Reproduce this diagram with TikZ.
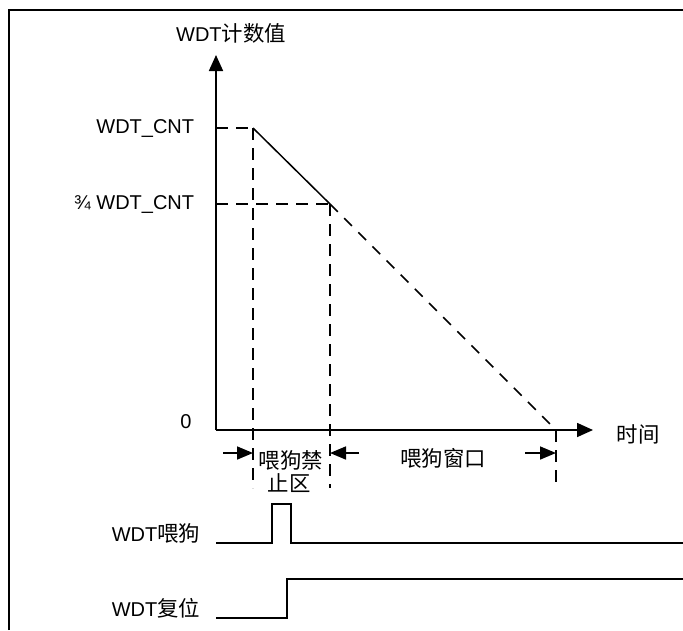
\documentclass[tikz,border=0pt]{standalone}
\usepackage{fontspec}
\setmainfont{Liberation Sans}
\newfontfamily\cjk[Scale=1.07]{Noto Sans CJK SC}
\usetikzlibrary{arrows.meta}
\begin{document}
\begin{tikzpicture}[x=1pt,y=-1pt,line width=1.7pt,
  lbl/.style={font=\fontsize{20}{23}\selectfont,inner sep=0pt},
  dsh/.style={line width=1.7pt,dash pattern=on 12pt off 8pt},
  axtip/.style={-{Triangle[length=16pt,width=14pt]}},
  smtip/.style={-{Triangle[length=16pt,width=13pt]}}]
\useasboundingbox (0,0) rectangle (683,630);
% frame
\draw[line width=1.8pt] (9,630) -- (9,10) -- (683,10);
% coordinates
\coordinate (O) at (216,430);
\coordinate (Ytop) at (216,55);
\coordinate (Xend) at (593,430);
\coordinate (Y1) at (216,128);
\coordinate (Y2) at (216,204);
\coordinate (A) at (253,128);
\coordinate (B) at (330,204);
\coordinate (C) at (556,430);
\coordinate (Ab) at (253,488);
\coordinate (Bb) at (330,488);
\coordinate (Cb) at (556,488);
% axes
\draw[axtip] (O) -- (Ytop);
\draw[axtip] (O) -- (Xend);
% dashed guides
\draw[dsh] (Y1) -- (A);
\draw[dsh] (A) -- (Ab);
\draw[dsh] (Y2) -- (B);
\draw[dsh] (B) -- (Bb);
\draw[line width=1.5pt,dash pattern=on 11pt off 9pt] (B) -- (C);
\draw[dsh] (C) -- (Cb);
% solid slope
\draw[line width=1.5pt] (A) -- (B);
% interval arrows
\coordinate (a1) at (223,453);
\coordinate (a1t) at (253,453);
\coordinate (a2) at (359,453);
\coordinate (a2t) at (330,453);
\coordinate (a3) at (525,453);
\coordinate (a3t) at (556,453);
\draw[smtip] (a1) -- (a1t);
\draw[smtip] (a2) -- (a2t);
\draw[smtip] (a3) -- (a3t);
% labels
\node[lbl] (title) at (231,33) {WDT{\cjk 计数值}};
\node[lbl,anchor=east] (lcnt) at (195,128) {WDT\_CNT};
\node[lbl,anchor=east] (lcnt34) at (195,204) {¾ WDT\_CNT};
\node[lbl] (lzero) at (186,422) {0};
\node[lbl] (ltime) at (638,434) {\cjk 时间};
\node[lbl] (lban1) at (291,460) {\cjk 喂狗禁};
\node[lbl] (lban2) at (289,483) {\cjk 止区};
\node[lbl] (lwin) at (443,458) {\cjk 喂狗窗口};
\node[lbl,anchor=east] (lfeed) at (201,533) {WDT{\cjk 喂狗}};
\node[lbl,anchor=east] (lrst) at (201,608) {WDT{\cjk 复位}};
% signals
\coordinate (f0) at (216,543);
\coordinate (f1) at (272,543);
\coordinate (f2) at (272,504);
\coordinate (f3) at (291,504);
\coordinate (f4) at (291,543);
\coordinate (f5) at (683,543);
\draw (f0) -- (f1) -- (f2) -- (f3) -- (f4) -- (f5);
\coordinate (r0) at (216,618);
\coordinate (r1) at (287,618);
\coordinate (r2) at (287,579);
\coordinate (r3) at (683,579);
\draw (r0) -- (r1) -- (r2) -- (r3);
\end{tikzpicture}
\end{document}
